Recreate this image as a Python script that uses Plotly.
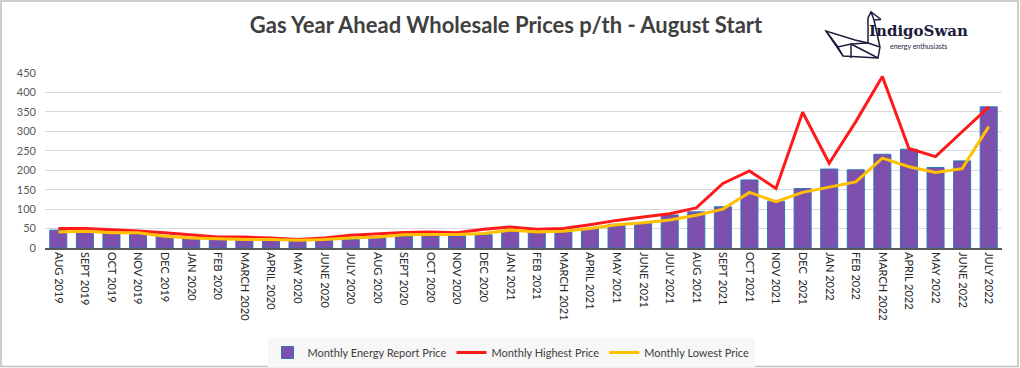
import plotly.graph_objects as go

months = ["AUG 2019", "SEPT 2019", "OCT 2019", "NOV 2019", "DEC 2019", "JAN 2020",
          "FEB 2020", "MARCH 2020", "APRIL 2020", "MAY 2020", "JUNE 2020", "JULY 2020",
          "AUG 2020", "SEPT 2020", "OCT 2020", "NOV 2020", "DEC 2020", "JAN 2021",
          "FEB 2021", "MARCH 2021", "APRIL 2021", "MAY 2021", "JUNE 2021", "JULY 2021",
          "AUG 2021", "SEPT 2021", "OCT 2021", "NOV 2021", "DEC  2021", "JAN 2022",
          "FEB 2022", "MARCH 2022", "APRIL 2022", "MAY 2022", "JUNE 2022", "JULY 2022"]
report_price = [46, 43, 40, 40, 31, 26, 24, 22, 21, 19, 21, 22, 26, 31, 33, 31, 34, 43,
                41, 43, 50, 61, 63, 85, 93, 106, 175, 120, 153, 203, 201, 241, 254, 207,
                224, 363]
highest_price = [50, 50, 47, 44, 39, 34, 28, 28, 26, 22, 26, 33, 37, 40, 41, 39, 48, 54,
                 48, 50, 60, 71, 80, 88, 103, 166, 198, 153, 349, 218, 325, 441, 256, 235,
                 299, 362]
lowest_price = [41, 43, 39, 39, 30, 26, 24, 22, 22, 20, 22, 26, 28, 34, 35, 35, 37, 46,
                41, 43, 50, 60, 65, 72, 84, 100, 143, 119, 143, 156, 170, 231, 209, 194,
                204, 312]
y_ticks = [0, 50, 100, 150, 200, 250, 300, 350, 400, 450]

W, H = 1020, 368
L, R, T, B = 45, 18, 73, 120
PW, PH = W - L - R, H - T - B


def px(x):
    return (x - L) / PW


def py(y):
    return (H - B - y) / PH


FONT = "Lato, Open Sans, sans-serif"

fig = go.Figure()
fig.add_trace(go.Bar(
    x=months, y=report_price, name="Monthly Energy Report Price",
    marker=dict(color="#7E50AE", line=dict(color="#2E75B6", width=1)),
))
fig.add_trace(go.Scatter(
    x=months, y=highest_price, name="Monthly Highest Price", mode="lines",
    line=dict(color="#FF1A1A", width=3),
))
fig.add_trace(go.Scatter(
    x=months, y=lowest_price, name="Monthly Lowest Price", mode="lines",
    line=dict(color="#FFC000", width=3),
))

# swan logo outline (decoration, pixel geometry)
Hd, Bk, N1, N2 = (871, 12), (881, 19.5), (868, 18), (874, 20)
NL, NR, BR, BL = (868, 43), (880, 47), (878, 58), (843, 56)
WT, WM, I1, I2 = (826, 31), (855, 40), (851, 44), (851, 58)
swan_pts = [
    [Bk, Hd, N1, NL],
    [Hd, N2, Bk],
    [N2, NR, BR, BL, WT, WM, NL, NR],
    [WT, (838, 47), I1, NL],
    [(838, 47), BL],
    [I1, I2],
    [I1, BR],
]
shapes = []
for seg in swan_pts:
    path = "M " + " L ".join(f"{px(x):.5f},{py(y):.5f}" for x, y in seg)
    shapes.append(dict(type="path", xref="paper", yref="paper", path=path,
                       line=dict(color="#1C1C3C", width=1.5)))
# outer frame
shapes.append(dict(type="rect", xref="paper", yref="paper",
                   x0=px(1), x1=px(1018), y0=py(366.5), y1=py(1),
                   line=dict(color="#BFBFBF", width=1.5)))

fig.update_layout(
    width=W, height=H,
    margin=dict(l=L, r=R, t=T, b=B, pad=0, autoexpand=False),
    paper_bgcolor="white", plot_bgcolor="white",
    bargap=0.36,
    title=dict(text="Gas Year Ahead Wholesale Prices p/th - August Start",
               x=506 / W, xanchor="center", y=1 - 25 / H, yanchor="middle",
               font=dict(family=FONT, size=22, color="#404040", weight="bold")),
    xaxis=dict(type="category", tickangle=90, showgrid=False, showline=True,
               linecolor="#595959", linewidth=1.5, ticks="", automargin=False,
               tickfont=dict(family=FONT, size=11, color="#262626"),
               range=[-0.5, len(months) - 0.5]),
    yaxis=dict(range=[0, 450], tickvals=y_ticks, showgrid=True, gridcolor="#D9D9D9",
               gridwidth=1.2, zeroline=False, showline=False, ticks="",
               ticklabelstandoff=8, automargin=False,
               tickfont=dict(family=FONT, size=11, color="#595959")),
    legend=dict(orientation="h", x=px(511), xanchor="center", y=py(338), yanchor="top",
                bgcolor="#F7F7F7", font=dict(family=FONT, size=11, color="#404040"),
                itemwidth=30, traceorder="normal"),
    shapes=shapes,
    annotations=[
        dict(text="<b>IndigoSwan</b>", xref="paper", yref="paper", x=px(918.5), y=py(31),
             xanchor="center", yanchor="middle", showarrow=False,
             font=dict(family="DejaVu Serif", size=15, color="#1C1C3C")),
        dict(text="energy enthusiasts", xref="paper", yref="paper", x=px(918.5), y=py(46),
             xanchor="center", yanchor="middle", showarrow=False,
             font=dict(family=FONT, size=7, color="#1C1C3C")),
    ],
    showlegend=True,
)

fig.write_html(
    "out.html",
    config={"displayModeBar": False},
    post_script="document.body.style.margin='0';document.body.style.overflow='hidden';",
)
